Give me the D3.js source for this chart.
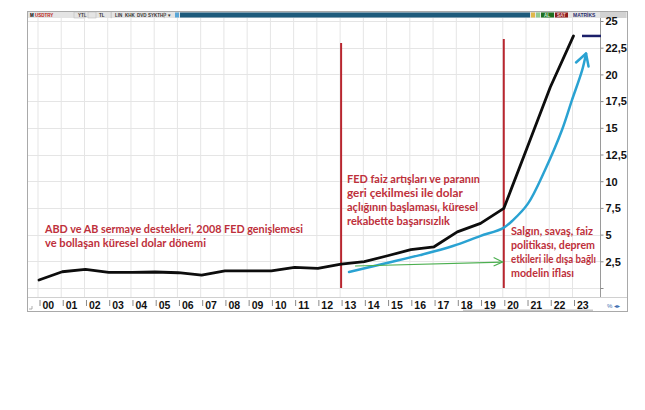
<!DOCTYPE html>
<html>
<head>
<meta charset="utf-8">
<script src="https://cdn.jsdelivr.net/npm/d3@7"></script>
<style>
  html, body { margin: 0; padding: 0; background: #ffffff; }
  svg { display: block; }
</style>
</head>
<body>
<svg id="chart" width="645" height="410"></svg>
<script>
// ---------- DATA ----------
const years = ["00","01","02","03","04","05","06","07","08","09","10","11","12","13","14","15","16","17","18","19","20","21","22","23"];
const usdtry = [0.75,1.52,1.74,1.47,1.47,1.50,1.43,1.21,1.61,1.61,1.61,1.93,1.84,2.24,2.46,3.02,3.60,3.86,5.26,6.05,7.45,13.1,18.8,23.6];
const yTicks = [2.5,5,7.5,10,12.5,15,17.5,20,22.5,25];
const yTickLabels = ["2,5","5","7,5","10","12,5","15","17,5","20","22,5","25"];
// annotation trend curve (year index, value)
const trendX = [13.34,14.97,16.39,17.81,18.98,19.97,20.40,21.04,21.77,22.50,22.93,23.37,23.54];
const trendY = [1.50,2.34,3.08,3.93,4.86,5.61,6.36,7.90,11.03,14.77,17.57,20.37,21.96];
const flatArrowX = [13.6, 19.95];
const flatArrowY = [2.06, 2.43];
const eventYears = [13, 20];
const lastValue = 23.6;
const notes = [
  {lines:["ABD ve AB sermaye destekleri, 2008 FED genişlemesi","ve bollaşan küresel dolar dönemi"], widths:[258,161], size:11.6},
  {lines:["FED faiz artışları ve paranın","geri çekilmesi ile dolar","açlığının başlaması, küresel","rekabette başarısızlık"], widths:[133,116,131,103], size:11.6},
  {lines:["Salgın, savaş, faiz","politikası, deprem","etkileri ile dışa bağlı","modelin iflası"], widths:[82,84,85,63], size:11.4}
];

// ---------- LAYOUT ----------
const svg = d3.select("#chart");
const frame = {x0:27.5, y0:11.5, x1:627.5, y1:311.5};
const plot = {x0:28, x1:600, y0:18, y1:297};
const x = d3.scaleLinear().domain([0, 23]).range([39, 573.5]);
const y = d3.scaleLinear().domain([0, 25]).range([288, 21]);

// frame
svg.append("rect").attr("x",frame.x0).attr("y",frame.y0)
  .attr("width",frame.x1-frame.x0).attr("height",frame.y1-frame.y0)
  .attr("fill","#ffffff").attr("stroke","#a9a9a9").attr("stroke-width",1);

// toolbar
const tb = svg.append("g");
tb.append("rect").attr("x",28).attr("y",12).attr("width",599).attr("height",6).attr("fill","#e4e4e4");
tb.append("rect").attr("x",180).attr("y",12.5).attr("width",350).attr("height",5).attr("fill","#1e5b7c");
const tbItems = [
  {t:"M", x:30, c:"#000"}, {t:"USDTRY", x:35, c:"#b22"}, {t:"YTL", x:78, c:"#333"}, {t:"TL", x:99, c:"#333"},
  {t:"LIN", x:115, c:"#333"}, {t:"KHK", x:125, c:"#333"}, {t:"DVD", x:137, c:"#333"}, {t:"SYKTHP", x:148, c:"#333"},
  {t:"▼", x:167, c:"#333"}
];
tb.selectAll("text.tb").data(tbItems).join("text").attr("class","tb")
  .attr("x",d=>d.x).attr("y",17).attr("font-family","Liberation Sans, Arial").attr("font-size",4.5)
  .attr("font-weight","bold").attr("fill",d=>d.c).text(d=>d.t);
[[74,12,11],[88,12,8],[111,12,0.6],[164,12,0.6]].forEach(r=>{
  tb.append("rect").attr("x",r[0]).attr("y",r[1]).attr("width",r[2]).attr("height",6)
    .attr("fill","none").attr("stroke","#b5b5b5").attr("stroke-width",0.5);
});
tb.append("rect").attr("x",175).attr("y",12.5).attr("width",4).attr("height",5).attr("fill","#5aa6d6");
tb.append("rect").attr("x",531).attr("y",12.5).attr("width",4).attr("height",5).attr("fill","#e0b84a");
tb.append("rect").attr("x",536).attr("y",12.5).attr("width",4).attr("height",5).attr("fill","#8fc98f");
tb.append("rect").attr("x",541).attr("y",12.5).attr("width",13).attr("height",5).attr("fill","#1f6e1f");
tb.append("text").attr("x",544).attr("y",17).attr("font-family","Liberation Sans, Arial").attr("font-size",4.5).attr("font-weight","bold").attr("fill","#d8f0d8").text("AL");
tb.append("rect").attr("x",555).attr("y",12.5).attr("width",13).attr("height",5).attr("fill","#8e1d1d");
tb.append("text").attr("x",557).attr("y",17).attr("font-family","Liberation Sans, Arial").attr("font-size",4.5).attr("font-weight","bold").attr("fill","#f0d0d0").text("SAT");
tb.append("text").attr("x",573).attr("y",17).attr("font-family","Liberation Sans, Arial").attr("font-size",5).attr("font-weight","bold").attr("fill","#2b2f6e").text("MATRİKS");
tb.append("rect").attr("x",600).attr("y",12).attr("width",26).attr("height",6).attr("fill","#d2d2d2");

// grid
const grid = svg.append("g");
grid.selectAll("line.vg").data(years).join("line").attr("class","vg")
  .attr("x1",(d,i)=>x(i)-1).attr("x2",(d,i)=>x(i)-1).attr("y1",plot.y0).attr("y2",plot.y1)
  .attr("stroke","#e5e5e5").attr("stroke-width",1);
grid.selectAll("line.hg").data([0].concat(yTicks)).join("line").attr("class","hg")
  .attr("x1",plot.x0).attr("x2",plot.x1).attr("y1",d=>Math.round(y(d))+0.5).attr("y2",d=>Math.round(y(d))+0.5)
  .attr("stroke","#e5e5e5").attr("stroke-width",1);

// x-axis strip
svg.append("line").attr("x1",28).attr("x2",627).attr("y1",297.5).attr("y2",297.5).attr("stroke","#d0d0d0");
svg.append("rect").attr("x",463).attr("y",309.5).attr("width",130).attr("height",1.5).attr("fill","#c8c8c8");
svg.append("path").attr("d","M29,309 L32,309 L32,306").attr("fill","none").attr("stroke","#9a9a9a").attr("stroke-width",0.8);
const xAxis = d3.axisBottom(x).tickValues(d3.range(years.length)).tickFormat(i=>years[i]).tickSize(0);
const xg = svg.append("g").attr("transform","translate(0,299)").call(xAxis);
xg.select(".domain").remove();
xg.selectAll(".tick text").attr("text-anchor","start").attr("x",3).attr("dy",0).attr("y",10)
  .attr("font-family","Liberation Sans, Arial").attr("font-size",10.5).attr("font-weight","bold").attr("fill","#111");
xg.selectAll(".tick").append("line").attr("x1",0.5).attr("x2",0.5).attr("y1",1).attr("y2",7).attr("stroke","#8a8a8a").attr("stroke-width",1);
svg.append("text").attr("x",607).attr("y",308).attr("font-family","Liberation Sans, Arial").attr("font-size",6)
  .attr("fill","#3a6fb0").text("%  ◂▸");

// y-axis
const yAxis = d3.axisRight(y).tickValues([0].concat(yTicks)).tickFormat(v=>{const k=yTicks.indexOf(v);return k<0?"":yTickLabels[k];}).tickSize(3).tickPadding(2);
const yg = svg.append("g").attr("transform","translate(600.5,0)").call(yAxis);
yg.select(".domain").attr("stroke","#9a9a9a").attr("d","M0,18V297");
yg.selectAll(".tick line").attr("stroke","#8a8a8a");
yg.selectAll(".tick text").attr("font-family","Liberation Sans, Arial").attr("font-size",11).attr("font-weight","bold").attr("fill","#111").attr("dy","0.35em");

// event lines
svg.selectAll("line.ev").data(eventYears).join("line").attr("class","ev")
  .attr("x1",d=>x(d)).attr("x2",d=>x(d)).attr("y1",(d,i)=>i===0?43:39).attr("y2",y(0))
  .attr("stroke","#b8262f").attr("stroke-width",2);

// trend curve (cyan)
const trendPts = trendX.map((v,i)=>[x(v), y(trendY[i])]);
svg.append("path").attr("d", d3.line().curve(d3.curveCatmullRom.alpha(0.5))(trendPts))
  .attr("fill","none").attr("stroke","#2aa2d2").attr("stroke-width",2.5).attr("stroke-linecap","round");
const tip = trendPts[trendPts.length-1];
svg.append("path").attr("d",`M${tip[0]-10},${tip[1]+9} L${tip[0]},${tip[1]} L${tip[0]+2.5},${tip[1]+13}`)
  .attr("fill","none").attr("stroke","#2aa2d2").attr("stroke-width",2.5).attr("stroke-linejoin","round").attr("stroke-linecap","round");

// flat arrow (green)
const g0 = [x(flatArrowX[0]), y(flatArrowY[0])], g1 = [x(flatArrowX[1]), y(flatArrowY[1])];
svg.append("line").attr("x1",g0[0]).attr("y1",g0[1]).attr("x2",g1[0]).attr("y2",g1[1])
  .attr("stroke","#4caf50").attr("stroke-width",1.2);
svg.append("path").attr("d",`M${g1[0]-9},${g1[1]-4.5} L${g1[0]},${g1[1]} L${g1[0]-9},${g1[1]+4}`)
  .attr("fill","none").attr("stroke","#4caf50").attr("stroke-width",1.2);

// main line (black)
svg.append("path").datum(usdtry)
  .attr("d", d3.line().x((d,i)=>x(i)).y(d=>y(d)).curve(d3.curveLinear))
  .attr("fill","none").attr("stroke","#0d0d0d").attr("stroke-width",2.8).attr("stroke-linejoin","round").attr("stroke-linecap","round");

// last value marker
svg.append("line").attr("x1",582).attr("x2",601).attr("y1",y(lastValue)).attr("y2",y(lastValue))
  .attr("stroke","#1b1f6a").attr("stroke-width",2.5);

// annotations (horizontally condensed via transform so boxes match what is drawn)
const noteAnchors = [{x:45, y:233},{x:347, y:183},{x:511, y:235}];
notes.forEach((n,k)=>{
  const t = svg.append("g");
  n.lines.forEach((ln,j)=>{
    const tx = t.append("text").attr("x",0).attr("y",0)
      .attr("font-family","Lato, 'Open Sans', sans-serif").attr("font-size",n.size).attr("font-weight","bold")
      .attr("fill","#be303b").text(ln);
    const natural = tx.node().getComputedTextLength() || n.widths[j];
    const sx = n.widths[j] / natural;
    tx.attr("transform",`translate(${noteAnchors[k].x},${noteAnchors[k].y + j*14}) scale(${sx},1)`);
  });
});
</script>
</body>
</html>
